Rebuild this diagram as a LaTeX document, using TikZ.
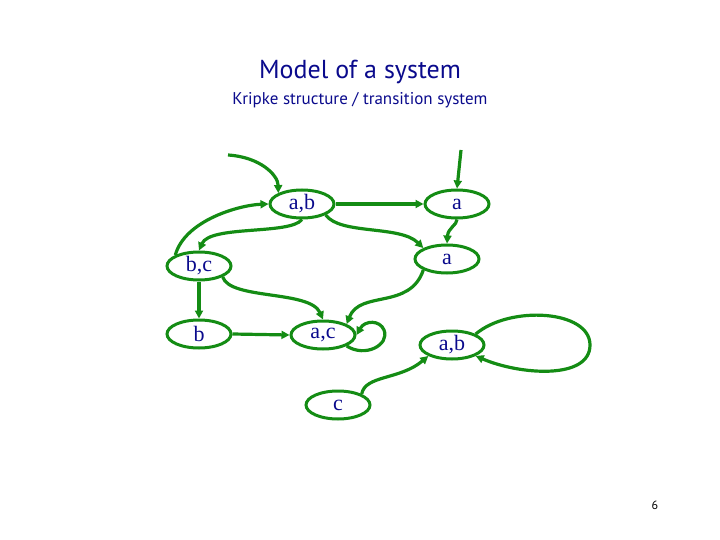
\documentclass[tikz,border=0pt]{standalone}
\usepackage{fontspec}
\setmainfont{Liberation Serif}
\newfontfamily\titlefont{PT Sans}
\usetikzlibrary{shapes.geometric,arrows.meta}
\definecolor{gr}{RGB}{20,140,20}
\definecolor{tb}{RGB}{10,10,140}
\begin{document}
\begin{tikzpicture}[x=1pt,y=-1pt,
  st/.style={ellipse,draw=gr,line width=3pt,minimum width=64pt,minimum height=28pt,inner sep=0pt,text=tb,font=\fontsize{22}{22}\selectfont},
  ed/.style={draw=gr,line width=3.2pt,-{Triangle[length=8pt,width=8pt]}}]
\useasboundingbox (0,0) rectangle (720,540);
\node[font=\titlefont\fontsize{26}{26}\selectfont,text=tb] (t) at (360,72) {Model of a system};
\node[font=\titlefont\fontsize{17}{17}\selectfont,text=tb] (s) at (360,100) {Kripke structure / transition system};
\node[font=\titlefont\fontsize{12}{12}\selectfont] (p) at (655,505) {6};
\node[st] (ab1) at (302,204) {a,b};
\node[st] (a1) at (457,204) {a};
\node[st] (a2) at (447,259) {a};
\node[st] (bc) at (199,266) {b,c};
\node[st] (b) at (199,334) {b};
\node[st] (ac) at (323,335) {a,c};
\node[st] (ab2) at (452,345) {a,b};
\node[st] (c) at (338,405) {c};
\coordinate (i1) at (228,155);
\coordinate (i2) at (461,150);
\draw[ed] (i1) .. controls (260,157) and (278,175) .. (ab1.north west);
\draw[ed] (i2) -- (a1.north);
\draw[ed] (ab1.east) -- (a1.west);
\draw[ed] (a1.south) .. controls (457,225) and (448,228) .. (a2.north);
\draw[ed] (ab1.south) .. controls (290,235) and (210,225) .. (bc.north);
\draw[ed] (bc.north west) .. controls (185,220) and (240,205) .. (ab1.west);
\draw[ed] (ab1.south east) .. controls (340,235) and (400,225) .. (a2.north west);
\draw[ed] (bc.south) -- (b.north);
\draw[ed] (bc.south east) .. controls (230,300) and (310,290) .. (ac.north);
\draw[ed] (a2.south west) .. controls (410,310) and (360,290) .. (ac.north east);
\draw[ed] (b.east) -- (ac.west);
\draw[ed] (ac.south east) .. controls (365,358) and (390,345) .. (384,330) .. controls (380,320) and (365,320) .. (ac.east);
\draw[ed] (c.north east) .. controls (365,375) and (400,380) .. (ab2.south west);
\draw[ed] (ab2.north east) .. controls (510,305) and (590,310) .. (590,345) .. controls (590,380) and (520,375) .. (ab2.south east);
\end{tikzpicture}
\end{document}
